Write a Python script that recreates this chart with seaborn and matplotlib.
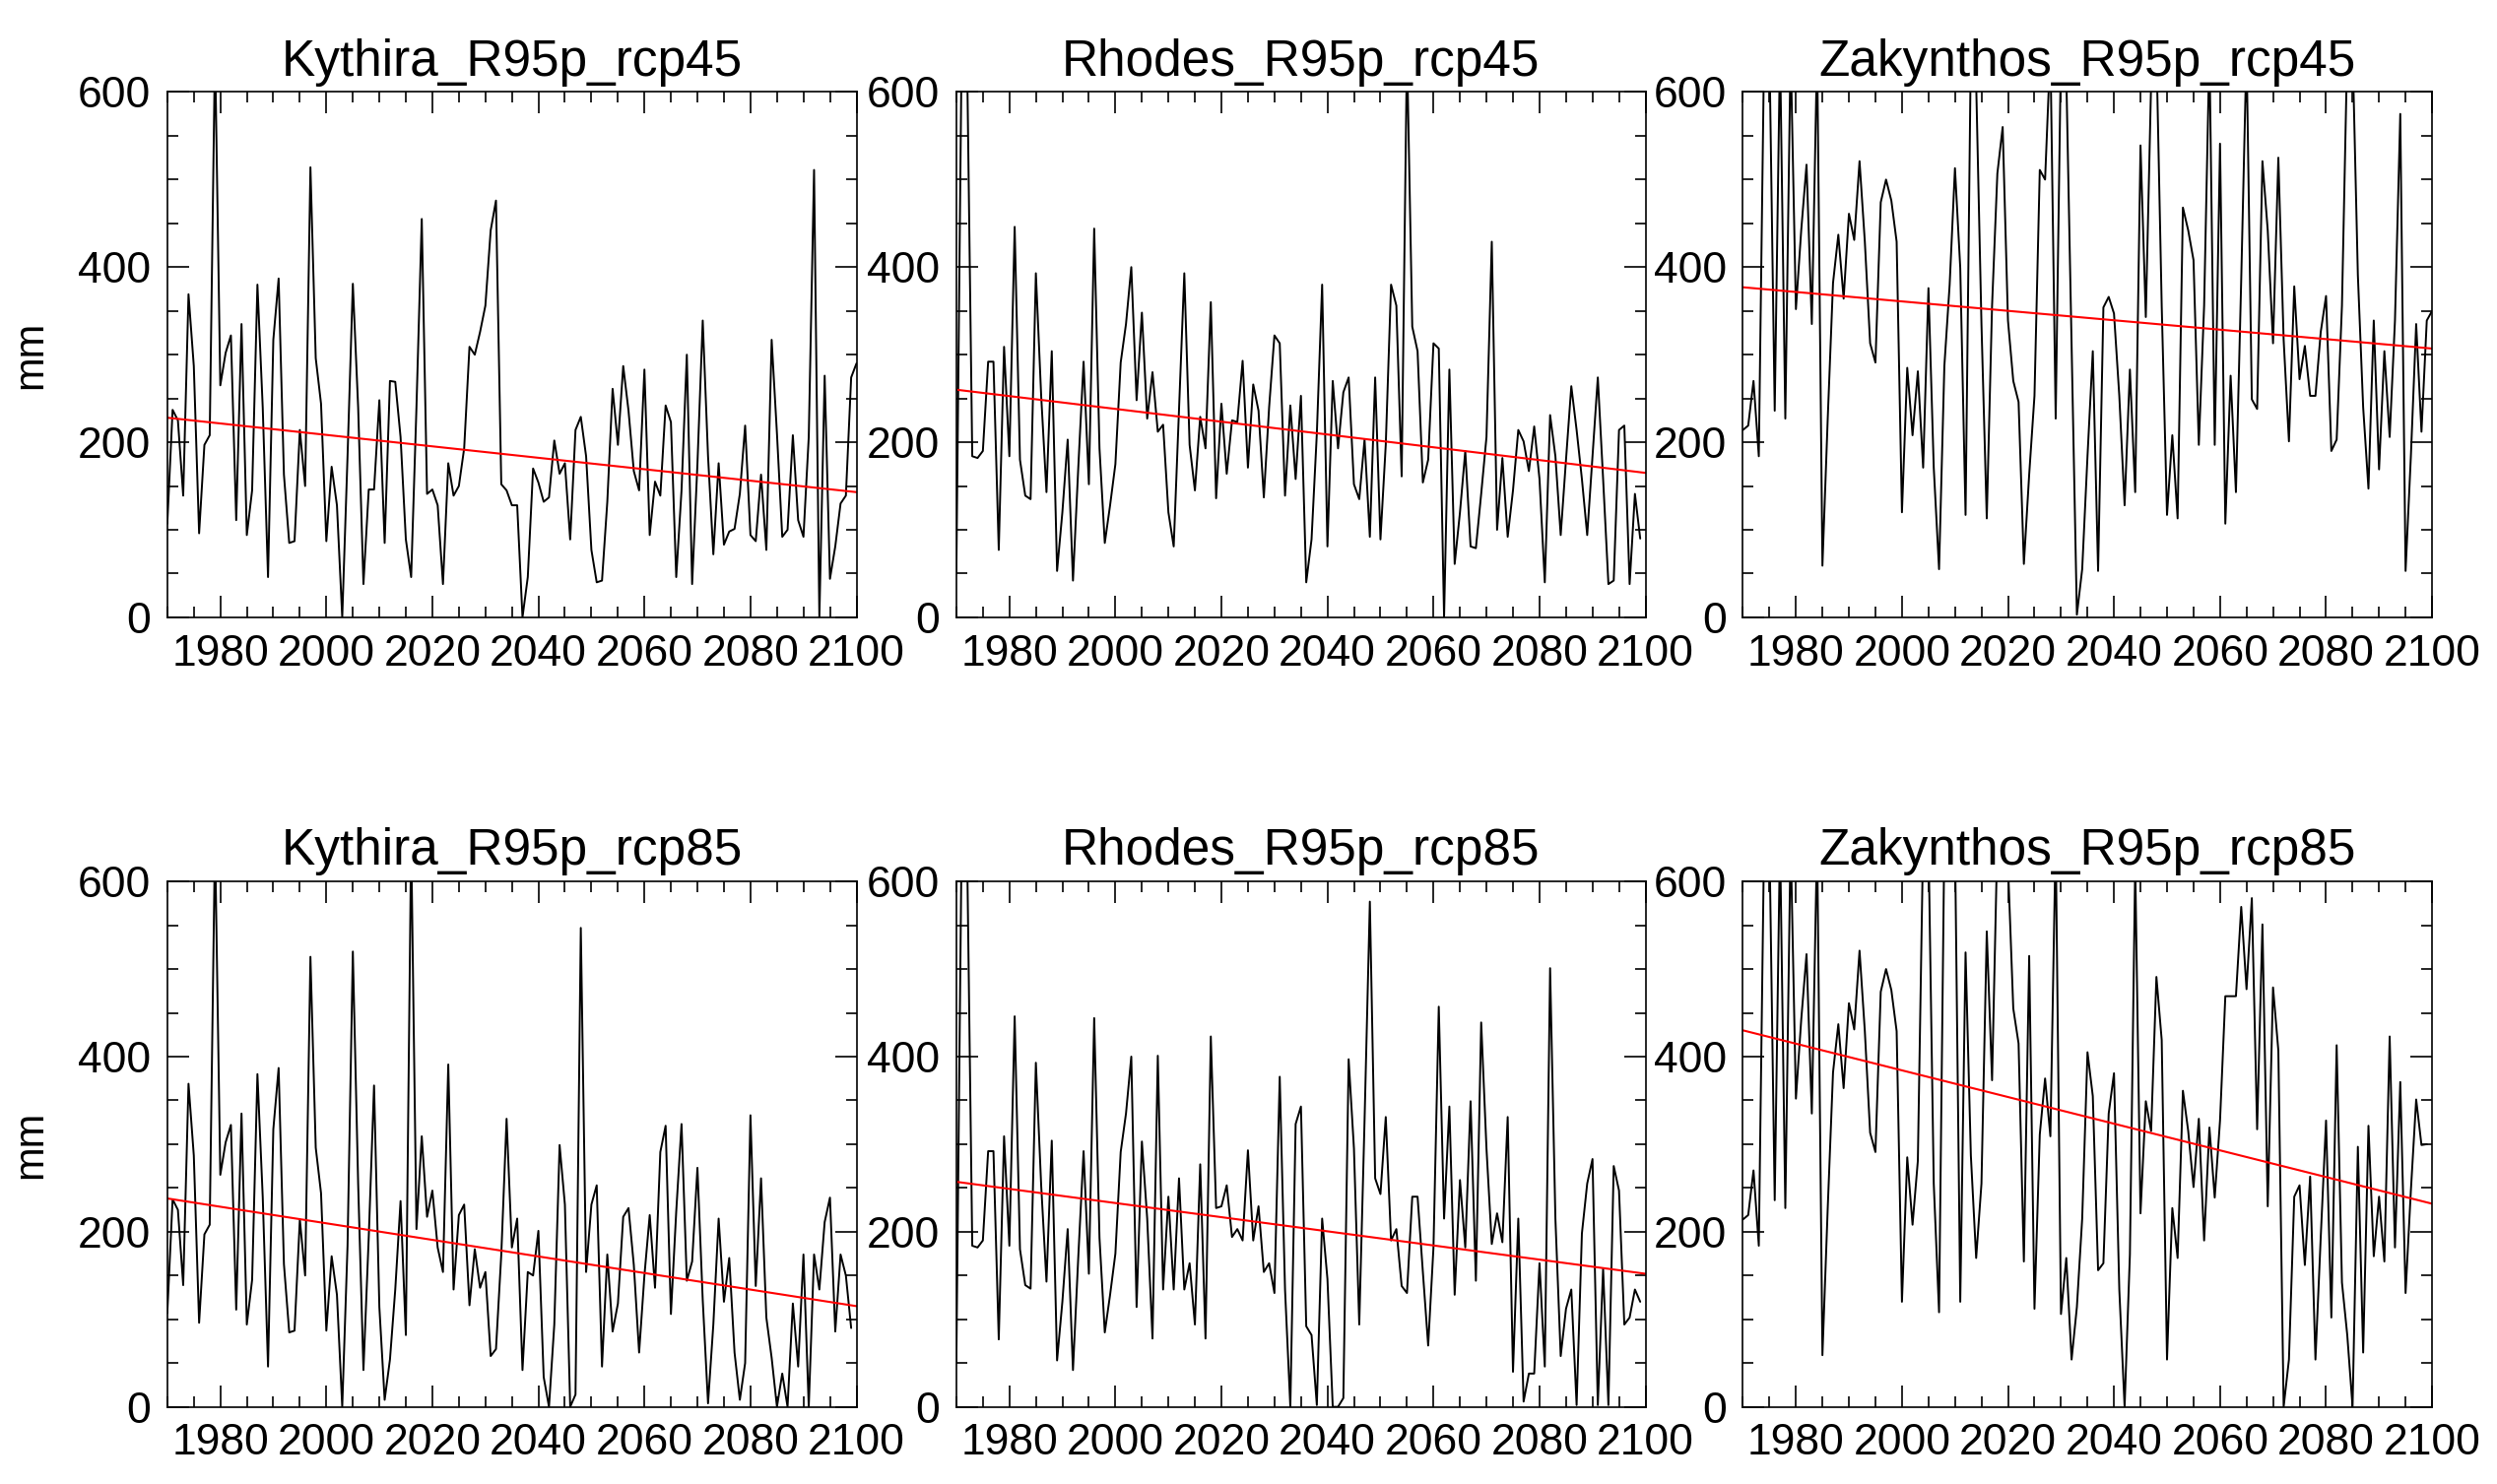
import numpy as np
import pandas as pd
import seaborn as sns
import matplotlib
matplotlib.use('Agg')
import matplotlib.pyplot as plt
from matplotlib.ticker import MultipleLocator

sns.set_style("white")
plt.rcParams['font.family'] = ['Liberation Sans', 'DejaVu Sans']
plt.rcParams['text.color'] = 'black'
plt.rcParams['xtick.color'] = 'black'
plt.rcParams['ytick.color'] = 'black'
plt.rcParams['axes.labelcolor'] = 'black'

# shared historical part
kythira_hist = [107, 237, 225, 139, 369, 287, 96, 197, 208, 650, 265, 302, 322, 111, 335, 94, 145, 380,
                240, 46, 317, 387, 163, 85, 87, 214, 150, 514, 296, 244, 87, 172, 128, 0, 184]
rhodes_hist = [51, 650, 650, 184, 182, 190, 292, 292, 77, 309, 184, 446, 180, 139, 135, 393, 253, 143,
               304, 53, 120, 203, 42, 171, 292, 152, 444, 193, 85, 128, 175, 291, 335, 400, 248]
zak_hist = [214, 219, 270, 184, 650, 650, 236, 650, 227, 650, 352, 442, 517, 335, 650, 59, 227, 382,
            437, 364, 461, 431, 521, 429, 313, 291, 474, 500, 476, 429, 120, 285, 208, 281, 171]

kythira_45 = [381, 240, 38, 146, 146, 248, 85, 270, 269, 206, 89, 46, 240, 455, 141, 146, 128, 38,
              176, 139, 150, 193, 309, 300, 326, 356, 442, 476, 152, 145, 128, 128, 0, 46, 170, 154,
              132, 137, 202, 164, 176, 89, 214, 229, 184, 77, 40, 42, 132, 261, 197, 287, 236, 167,
              145, 283, 94, 155, 139, 242, 223, 46, 145, 300, 38, 175, 339, 184, 72, 176, 83, 98,
              101, 141, 219, 94, 87, 163, 77, 317, 210, 92, 100, 208, 111, 92, 206, 511, 0, 276,
              44, 81, 130, 139, 274, 290]
rhodes_45 = [348, 227, 280, 212, 220, 120, 81, 236, 393, 197, 145, 229, 193, 360, 136, 244, 164,
             225, 223, 293, 171, 266, 236, 137, 240, 322, 313, 139, 242, 158, 253, 40, 89, 210, 380,
             81, 270, 193, 257, 274, 152, 135, 203, 92, 274, 89, 197, 380, 356, 161, 650, 332, 304,
             154, 180, 313, 307, 0, 283, 61, 120, 190, 81, 79, 141, 206, 429, 100, 182, 92, 145,
             214, 201, 167, 218, 158, 40, 231, 184, 94, 180, 264, 214, 158, 94, 184, 274, 158, 38,
             42, 214, 219, 38, 141, 90]
zak_45 = [376, 171, 55, 287, 380, 513, 399, 117, 650, 610, 335, 113, 356, 507, 560, 339, 270, 246,
          61, 163, 253, 511, 500, 650, 227, 650, 620, 313, 3, 55, 184, 304, 53, 354, 366, 347, 253,
          128, 283, 143, 539, 343, 610, 650, 356, 117, 208, 113, 468, 442, 408, 197, 356, 650, 197,
          541, 107, 276, 143, 386, 650, 249, 238, 521, 442, 313, 525, 317, 201, 378, 272, 310, 253,
          253, 326, 367, 190, 203, 356, 650, 650, 391, 240, 147, 339, 169, 304, 206, 339, 575, 53,
          184, 335, 212, 339, 350]
kythira_85 = [520, 255, 42, 194, 367, 114, 8, 54, 134, 235, 82, 650, 203, 309, 217, 247, 182, 154,
              391, 134, 219, 231, 116, 180, 136, 154, 58, 66, 174, 329, 182, 215, 42, 154, 150, 201,
              34, 0, 94, 299, 231, 0, 14, 547, 154, 231, 253, 46, 174, 86, 118, 217, 227, 162, 62,
              150, 219, 136, 291, 321, 106, 223, 323, 144, 166, 273, 122, 4, 94, 215, 120, 170, 62,
              8, 50, 333, 138, 261, 102, 56, 0, 38, 0, 118, 46, 174, 0, 174, 134, 211, 239, 86, 174,
              150, 90]
rhodes_85 = [114, 303, 215, 78, 401, 134, 240, 134, 261, 134, 164, 94, 277, 78, 423, 227, 229, 253,
             194, 203, 190, 293, 190, 229, 154, 164, 130, 377, 134, 0, 323, 343, 92, 82, 2, 215, 146,
             0, 0, 10, 397, 295, 94, 327, 577, 261, 243, 331, 190, 203, 138, 130, 240, 240, 154, 70,
             182, 457, 215, 343, 128, 259, 182, 349, 144, 439, 295, 186, 221, 188, 331, 40, 215, 6,
             38, 38, 164, 46, 501, 215, 58, 112, 134, 2, 198, 255, 283, 2, 158, 2, 275, 247, 94, 102,
             134, 120]
zak_85 = [650, 650, 255, 108, 650, 650, 650, 120, 519, 287, 170, 255, 543, 373, 650, 650, 620, 455,
          415, 166, 515, 112, 311, 375, 309, 650, 106, 170, 54, 114, 215, 405, 355, 156, 164, 335,
          381, 134, 0, 174, 620, 221, 349, 315, 491, 419, 54, 227, 170, 361, 315, 251, 329, 190,
          319, 239, 327, 469, 469, 469, 571, 477, 581, 317, 551, 229, 479, 407, 0, 54, 240, 253,
          162, 263, 54, 194, 327, 102, 413, 142, 82, 0, 297, 62, 321, 172, 240, 166, 423, 182, 371,
          130, 247, 351, 299, 300]

# trend lines (start 1970, end 2100)
trend_start = [228, 260, 377, 238, 257, 430]
trend_end = [143, 165, 307, 115, 152, 232]

titles = ['Kythira_R95p_rcp45', 'Rhodes_R95p_rcp45', 'Zakynthos_R95p_rcp45',
          'Kythira_R95p_rcp85', 'Rhodes_R95p_rcp85', 'Zakynthos_R95p_rcp85']
series = [kythira_hist + kythira_45, rhodes_hist + rhodes_45, zak_hist + zak_45,
          kythira_hist + kythira_85, rhodes_hist[:-1] + rhodes_85, zak_hist[:-1] + zak_85]

fig = plt.figure(figsize=(25.35, 15.07), dpi=100)
lefts = [0.067, 0.383, 0.698]
bottoms = [0.584, 0.052]
w, h = 0.276, 0.354

for i, (title, vals) in enumerate(zip(titles, series)):
    r, c = divmod(i, 3)
    ax = fig.add_axes([lefts[c], bottoms[r], w, h])
    years = 1970 + np.arange(len(vals))
    df = pd.DataFrame({'year': years, 'mm': vals})
    sns.lineplot(data=df, x='year', y='mm', ax=ax, color='black', linewidth=1.4)
    tr = pd.DataFrame({'year': [1970, 2100], 'mm': [trend_start[i], trend_end[i]]})
    sns.lineplot(data=tr, x='year', y='mm', ax=ax, color='red', linewidth=1.5)
    ax.set_xlim(1970, 2100)
    ax.set_ylim(0, 600)
    ax.xaxis.set_major_locator(MultipleLocator(20))
    ax.xaxis.set_minor_locator(MultipleLocator(5))
    ax.yaxis.set_major_locator(MultipleLocator(200))
    ax.yaxis.set_minor_locator(MultipleLocator(50))
    ax.tick_params(which='both', direction='in', top=True, right=True, bottom=True, left=True,
                   labelsize=32, pad=12)
    ax.tick_params(which='major', length=16, width=1.2)
    ax.tick_params(which='minor', length=8, width=1.2)
    ax.set_xticks([1980, 2000, 2020, 2040, 2060, 2080, 2100])
    ax.set_title(title, fontsize=37, pad=12)
    ax.set_xlabel('')
    ax.set_ylabel('mm' if c == 0 else '', fontsize=30, labelpad=20)
    for s in ax.spines.values():
        s.set_color('black')
        s.set_linewidth(1.2)

fig.savefig('out.png', dpi=100)
